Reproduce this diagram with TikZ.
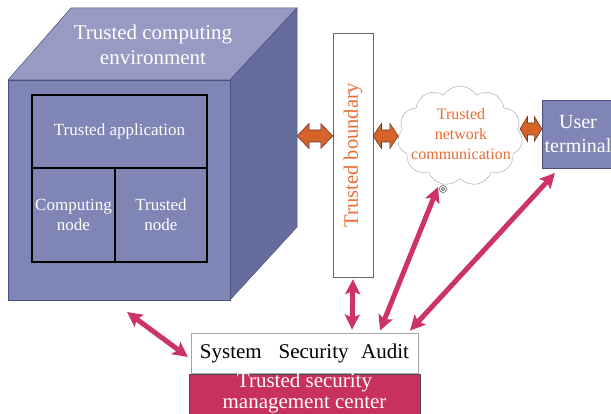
\documentclass[tikz,border=0pt]{standalone}
\usepackage{fontspec}
\setmainfont{Liberation Serif}
\usetikzlibrary{shapes.symbols,arrows.meta,calc}

\definecolor{cubefront}{HTML}{7F86B6}
\definecolor{cubetop}{HTML}{979BC4}
\definecolor{cubeside}{HTML}{676C9F}
\definecolor{cubeline}{HTML}{4B4F7E}
\definecolor{orangetext}{HTML}{EA6C34}
\definecolor{orangefill}{HTML}{D5632B}
\definecolor{orangeline}{HTML}{6B3A22}
\definecolor{crimson}{HTML}{C8305E}
\definecolor{pinkarrow}{HTML}{CC3366}

\tikzset{
  face/.style={draw=cubeline, line width=0.5pt},
  cell/.style={draw=black, line width=1.4pt, fill=cubefront, text=white,
    inner sep=0pt, align=center, font=\fontsize{17}{20}\selectfont},
  linkarrow/.style={pinkarrow, line width=5pt,
    {Stealth[length=15pt,width=15pt,inset=3pt]}-{Stealth[length=15pt,width=15pt,inset=3pt]}},
}

% fat horizontal double arrow between two points on the same height;
% #3 is the length of each head
\newcommand\fatarrow[3]{%
  \filldraw[fill=orangefill, draw=orangeline, line width=0.6pt]
    let \p1=(#1), \p2=(#2) in
    (\x1,\y1) -- (\x1+#3,\y1+12.5pt) -- (\x1+#3,\y1+6pt)
    -- (\x2-#3,\y1+6pt) -- (\x2-#3,\y1+12.5pt) -- (\x2,\y1)
    -- (\x2-#3,\y1-12.5pt) -- (\x2-#3,\y1-6pt)
    -- (\x1+#3,\y1-6pt) -- (\x1+#3,\y1-12.5pt) -- cycle;}

\begin{document}
\begin{tikzpicture}[x=1pt, y=-1pt]
\useasboundingbox (0,0) rectangle (611,414);

% ---- cube: trusted computing environment ----
\coordinate (ftl) at (8,80);
\coordinate (ftr) at (230,80);
\coordinate (fbr) at (230,300);
\coordinate (fbl) at (8,300);
\coordinate (btl) at (71,8);
\coordinate (btr) at (297,8);
\coordinate (bbr) at (297,227);

\filldraw[face, fill=cubetop] (ftl) -- (btl) -- (btr) -- (ftr) -- cycle;
\filldraw[face, fill=cubeside] (ftr) -- (btr) -- (bbr) -- (fbr) -- cycle;
\filldraw[face, fill=cubefront] (ftl) -- (ftr) -- (fbr) -- (fbl) -- cycle;

\node[text=white, align=center, font=\fontsize{21}{25}\selectfont]
  (tce) at (153,45) {Trusted computing\\environment};

\node[cell, minimum width=175, minimum height=73] (app) at (119.5,131.5) {Trusted application};
\node[cell, minimum width=83, minimum height=94] (comp) at (73.5,215) {Computing\\node};
\node[cell, minimum width=92, minimum height=94] (tnode) at (161,215) {Trusted\\node};

% ---- trusted boundary ----
\node[draw=gray!80!black, fill=white, minimum width=40, minimum height=244,
  inner sep=0pt] (boundary) at (353,155) {};
\node[rotate=90, text=orangetext, font=\fontsize{20.5}{24}\selectfont]
  (blabel) at (boundary.center) {Trusted boundary};

% ---- trusted network communication ----
\node[cloud, cloud puffs=11, cloud puff arc=115, aspect=1.25, draw=gray!75,
  fill=white, minimum width=125, minimum height=100, inner sep=0pt]
  (cloud) at (460,136) {};
\node[text=orangetext, align=center, font=\fontsize{16}{20}\selectfont]
  (cloudlabel) at (461,134) {Trusted\\network\\communication};
\draw[gray!75!black, line width=0.6pt] (443,189) circle (3.6);
\draw[gray!75!black, line width=0.6pt] (443,189) circle (1.6);

% ---- user terminal ----
\node[draw=cubeline, fill=cubefront, minimum width=72, minimum height=68,
  text=white, align=center, font=\fontsize{20}{24}\selectfont, inner sep=0pt]
  (user) at (578,134) {User\\terminal};

% ---- trusted security management center ----
\node[draw=gray!70, line width=0.8pt, fill=white, minimum width=227, minimum height=40,
  inner sep=0pt, font=\fontsize{21}{24}\selectfont]
  (audit) at (304.5,353) {System\hspace{0.55em} Security\hspace{0.35em} Audit};
\node[draw=gray!60!black, fill=crimson, minimum width=231, minimum height=44,
  inner sep=0pt] (tsmc) at (304.5,396) {};
\node[text=white, align=center, font=\fontsize{21}{20.5}\selectfont]
  (tsmclabel) at (304.5,393) {Trusted security\\management center};

% ---- orange links ----
\coordinate (a1l) at (297,136);
\coordinate (a2l) at (373,136);
\coordinate (a3l) at (520,129);
\fatarrow{a1l}{boundary.west |- a1l}{12pt}
\fatarrow{a2l}{cloud.west |- a2l}{8.5pt}
\fatarrow{a3l}{user.west |- a3l}{7.5pt}

% ---- management links ----
\coordinate (cubebottom) at (127,312);
\coordinate (auditleft) at (188,357);
\coordinate (cloudtail) at (438,187);
\coordinate (userbottom) at (555,173);
\draw[linkarrow] (cubebottom) -- (auditleft);
\draw[linkarrow] (boundary.south) ++(0,2) -- ($(audit.north)+(47.5,-3)$);
\draw[linkarrow] ($(audit.north)+(75.5,-2)$) -- (cloudtail);
\draw[linkarrow] ($(audit.north)+(105.5,-2)$) -- (userbottom);
\end{tikzpicture}
\end{document}
